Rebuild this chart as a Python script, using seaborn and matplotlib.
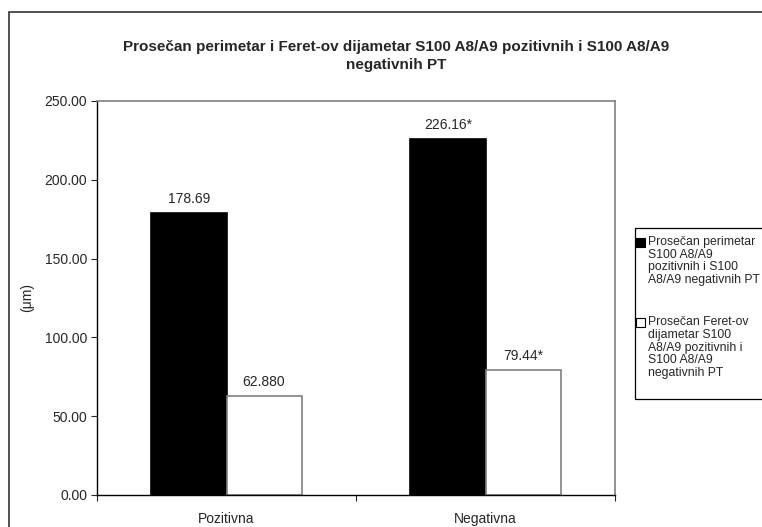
import matplotlib
matplotlib.use("Agg")
import matplotlib.pyplot as plt
import seaborn as sns
import pandas as pd
from matplotlib.patches import Rectangle, Patch
from matplotlib.legend_handler import HandlerBase

categories = ["Pozitivna", "Negativna"]
perimetar = [178.69, 226.16]
feret = [62.88, 79.44]
perimetar_labels = ["178.69", "226.16*"]
feret_labels = ["62.880", "79.44*"]
series_names = [
    "Prosečan perimetar\nS100 A8/A9\npozitivnih i S100\nA8/A9 negativnih PT",
    "Prosečan Feret-ov\ndijametar S100\nA8/A9 pozitivnih i\nS100 A8/A9\nnegativnih PT",
]
title = "Prosečan perimetar i Feret-ov dijametar S100 A8/A9 pozitivnih i S100 A8/A9\nnegativnih PT"
yticks = [0, 50, 100, 150, 200, 250]

sns.set_style("white")
plt.rcParams["font.family"] = ["Liberation Sans", "DejaVu Sans"]

FS = 10
LFS = 8.85

df = pd.DataFrame({
    "kategorija": categories * 2,
    "vrednost": perimetar + feret,
    "serija": [series_names[0]] * 2 + [series_names[1]] * 2,
})

fig = plt.figure(figsize=(7.62, 5.27), dpi=100)
ax = fig.add_axes([97/762, 1 - 495/527, 518/762, 394/527])

sns.barplot(data=df, x="kategorija", y="vrednost", hue="serija",
            palette=["black", "white"], width=0.58, ax=ax,
            legend=False, errorbar=None, saturation=1)

edge_colors = ["black", "#808080"]
for cont, ec in zip(ax.containers, edge_colors):
    for p in cont:
        p.set_edgecolor(ec)
        p.set_linewidth(1.2)

ax.bar_label(ax.containers[0], labels=perimetar_labels, padding=5, fontsize=FS)
ax.bar_label(ax.containers[1], labels=feret_labels, padding=5, fontsize=FS)

ax.set_ylim(0, 250)
ax.set_xlim(-0.5, 1.5)
ax.set_yticks(yticks)
ax.set_yticklabels([f"{v:.2f}" for v in yticks], fontsize=FS)
ax.tick_params(axis="y", direction="out", length=4, width=0.8, left=True, pad=3)
ax.set_xticks([0, 1])
ax.set_xticklabels(categories, fontsize=FS)
ax.set_xticks([-0.5, 0.5, 1.5], minor=True)
ax.tick_params(axis="x", which="major", length=0, pad=12)
ax.tick_params(axis="x", which="minor", direction="out", length=4, width=0.8, bottom=True)
ax.set_xlabel("")
ax.set_ylabel("(μm)", fontsize=FS)
ax.yaxis.set_label_coords((34 - 97) / 518, 0.5)

for side in ["top", "right"]:
    ax.spines[side].set_visible(True)
    ax.spines[side].set_color("#808080")
    ax.spines[side].set_linewidth(1.2)
for side in ["left", "bottom"]:
    ax.spines[side].set_color("black")
    ax.spines[side].set_linewidth(1.0)

fig.text(396/762, 1 - 56/527, title, ha="center", va="center",
         fontsize=11, fontweight="bold", linespacing=1.45)


class TopSquare(HandlerBase):
    def __init__(self, nlines, linesp):
        super().__init__()
        self.nlines = nlines
        self.linesp = linesp

    def create_artists(self, legend, orig_handle, xdescent, ydescent,
                       width, height, fontsize, trans):
        shift = (self.nlines - 1) / 2 * fontsize * self.linesp
        r = Rectangle((-xdescent, -ydescent + shift), width, height,
                      facecolor=orig_handle.get_facecolor(),
                      edgecolor="black", linewidth=0.8, transform=trans)
        return [r]


LS = 1.08
handles = [Patch(facecolor="black", edgecolor="black"),
           Patch(facecolor="white", edgecolor="black")]
hmap = {handles[0]: TopSquare(series_names[0].count("\n") + 1, LS * 0.96),
        handles[1]: TopSquare(series_names[1].count("\n") + 1, LS * 0.96)}
leg = fig.legend(handles, series_names, loc="upper left",
                 bbox_to_anchor=(636/762, 1 - 236/527),
                 frameon=False, fontsize=LFS,
                 handlelength=0.75, handleheight=0.75, handletextpad=0.2,
                 labelspacing=2.45, borderpad=0, borderaxespad=0,
                 handler_map=hmap)
for t in leg.get_texts():
    t.set_linespacing(LS)

# legend box (clipped by the right edge, as in the reference)
fig.patches.append(Rectangle((635/762, 1 - 399/527), 0.5, (399 - 228)/527,
                             transform=fig.transFigure, fill=False,
                             edgecolor="black", linewidth=0.9))

# outer chart border
fig.patches.append(Rectangle((9/762, -0.1), 2, 1 - 12/527 + 0.1,
                             transform=fig.transFigure, fill=False,
                             edgecolor="#333333", linewidth=1.2))

fig.savefig("out.png", dpi=100)
